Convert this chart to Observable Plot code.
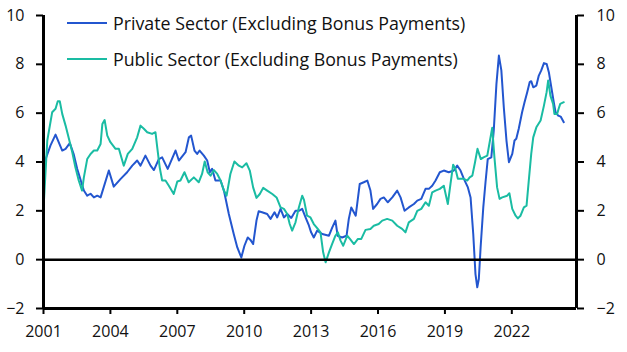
<!DOCTYPE html>
<html>
<head>
<meta charset="utf-8">
<script src="https://cdn.jsdelivr.net/npm/d3@7"></script>
<script src="https://cdn.jsdelivr.net/npm/@observablehq/plot@0.6"></script>
<style>
  html, body { margin: 0; padding: 0; background: #fff; }
  #wrap { position: relative; width: 627px; height: 352px; font-family: "Open Sans", sans-serif; }
  #legend { position: absolute; left: 67px; top: 0; font-size: 17.8px; color: #111; }
  .row { position: absolute; left: 0; display: flex; align-items: center; white-space: nowrap; height: 22px; }
  .sw { width: 40px; height: 2px; margin-right: 6px; }
</style>
</head>
<body>
<div id="wrap"><div id="chart"></div><div id="legend"></div></div>
<script>
const seriesNames = ["Private Sector (Excluding Bonus Payments)", "Public Sector (Excluding Bonus Payments)"];
const seriesColors = ["#2356cf", "#1abca3"];

const privateYears = [2001.05,2001.31,2001.54,2001.84,2001.99,2002.18,2002.36,2002.51,2002.81,2002.96,2003.11,2003.26,2003.41,2003.56,2003.93,2004.15,2004.45,2004.75,2004.98,2005.2,2005.35,2005.57,2005.8,2005.95,2006.17,2006.32,2006.57,2006.92,2007.07,2007.37,2007.52,2007.62,2007.77,2007.89,2008.0,2008.19,2008.34,2008.46,2008.56,2008.71,2008.94,2009.09,2009.31,2009.53,2009.69,2009.87,2010.01,2010.16,2010.28,2010.4,2010.55,2010.65,2010.8,2011.03,2011.18,2011.36,2011.48,2011.63,2011.78,2011.93,2012.11,2012.3,2012.45,2012.6,2012.75,2012.9,2013.0,2013.12,2013.27,2013.5,2013.8,2013.95,2014.09,2014.19,2014.39,2014.59,2014.69,2014.8,2015.0,2015.18,2015.36,2015.52,2015.66,2015.78,2015.96,2016.11,2016.26,2016.44,2016.64,2016.86,2017.01,2017.19,2017.38,2017.61,2017.76,2017.94,2018.13,2018.28,2018.43,2018.58,2018.77,2018.95,2019.17,2019.4,2019.55,2019.7,2019.85,2020.03,2020.15,2020.27,2020.37,2020.45,2020.52,2020.6,2020.72,2020.82,2020.92,2021.08,2021.19,2021.31,2021.42,2021.53,2021.64,2021.76,2021.87,2022.02,2022.12,2022.2,2022.31,2022.46,2022.57,2022.69,2022.8,2022.87,2022.96,2023.1,2023.21,2023.32,2023.44,2023.56,2023.66,2023.77,2023.88,2023.96,2024.08,2024.19,2024.33];
const privateValues = [4.0,4.67,5.12,4.47,4.54,4.77,4.3,3.72,2.83,2.62,2.7,2.55,2.62,2.55,3.65,2.99,3.3,3.58,3.85,4.06,3.85,4.26,3.85,3.67,4.12,4.19,3.72,4.47,4.06,4.4,5.01,5.08,4.47,4.33,4.47,4.26,4.06,3.58,3.72,3.24,3.24,2.83,1.87,1.05,0.5,0.09,0.57,0.91,0.81,0.64,1.6,1.98,1.94,1.87,1.67,1.94,1.73,2.08,1.73,1.87,1.71,2.0,2.0,2.08,1.73,1.4,1.12,0.91,1.19,1.05,0.98,1.32,1.6,0.98,0.91,0.98,1.67,2.14,1.8,3.1,3.17,3.24,2.83,2.08,2.28,2.49,2.55,2.35,2.55,2.83,2.55,2.0,2.14,2.28,2.42,2.49,2.9,2.9,3.03,3.24,3.58,3.65,3.58,3.65,3.85,3.65,3.31,2.96,2.55,1.05,-0.59,-1.13,-0.79,0.5,2.14,3.17,4.12,4.19,5.29,7.2,8.36,7.75,6.24,4.88,3.99,4.33,4.88,4.95,5.36,6.04,6.45,6.86,7.27,7.31,7.06,7.13,7.54,7.75,8.05,8.02,7.68,7.06,6.45,6.04,5.9,5.86,5.63];

const publicYears = [2001.0,2001.17,2001.39,2001.54,2001.64,2001.73,2001.84,2001.99,2002.14,2002.29,2002.43,2002.58,2002.73,2002.81,2002.96,2003.11,2003.26,2003.41,2003.56,2003.64,2003.74,2003.86,2004.0,2004.23,2004.38,2004.6,2004.78,2004.98,2005.2,2005.35,2005.5,2005.65,2005.87,2006.02,2006.1,2006.21,2006.32,2006.47,2006.62,2006.84,2007.0,2007.14,2007.32,2007.51,2007.74,2007.96,2008.11,2008.23,2008.36,2008.49,2008.64,2008.79,2008.94,2009.09,2009.21,2009.38,2009.56,2009.76,2009.91,2010.1,2010.25,2010.4,2010.55,2010.7,2010.85,2011.03,2011.26,2011.45,2011.63,2011.78,2011.93,2012.04,2012.15,2012.3,2012.45,2012.6,2012.68,2012.82,2012.97,2013.12,2013.3,2013.42,2013.54,2013.65,2013.8,2013.94,2014.09,2014.2,2014.32,2014.44,2014.62,2014.74,2014.92,2015.1,2015.25,2015.44,2015.66,2015.81,2016.03,2016.19,2016.41,2016.64,2016.86,2017.08,2017.23,2017.38,2017.61,2017.76,2017.94,2018.13,2018.28,2018.43,2018.58,2018.77,2018.95,2019.13,2019.25,2019.37,2019.47,2019.58,2019.85,2020.0,2020.11,2020.23,2020.35,2020.46,2020.61,2020.73,2020.9,2021.02,2021.12,2021.22,2021.34,2021.45,2021.57,2021.79,2021.89,2022.02,2022.17,2022.27,2022.39,2022.54,2022.66,2022.76,2022.87,2022.96,2023.1,2023.29,2023.44,2023.56,2023.63,2023.73,2023.85,2023.91,2024.03,2024.1,2024.17,2024.33];
const publicValues = [2.08,4.88,6.04,6.18,6.49,6.49,5.97,5.49,4.95,4.4,3.78,3.24,2.83,3.37,4.12,4.33,4.47,4.47,4.74,5.56,5.72,5.08,4.81,4.54,4.54,3.85,4.33,4.54,5.01,5.49,5.36,5.22,5.15,5.22,4.6,3.78,3.24,3.24,3.03,2.69,3.2,3.24,3.58,3.17,3.37,3.17,3.51,4.02,3.58,3.44,3.67,3.51,3.24,2.83,2.62,3.51,4.02,3.85,3.78,3.95,3.65,2.96,2.53,2.69,2.94,2.83,2.69,2.55,2.14,2.08,1.87,1.46,1.19,1.53,2.14,2.62,2.45,1.8,1.73,1.46,1.26,1.12,0.3,-0.11,0.3,0.64,0.98,1.12,0.78,0.57,0.98,0.85,0.64,0.85,0.85,1.22,1.26,1.39,1.46,1.6,1.67,1.6,1.39,1.26,1.12,1.53,1.67,2.0,2.08,2.35,2.21,2.76,2.83,2.9,3.03,2.28,3.1,3.89,3.72,3.31,3.31,3.24,3.37,3.44,3.99,4.54,4.12,4.19,4.26,4.88,5.4,4.19,2.96,2.49,2.55,2.62,2.72,2.08,1.8,1.69,1.8,2.14,2.21,3.24,4.33,5.01,5.42,5.7,6.31,6.86,7.34,6.72,6.38,5.97,5.97,6.18,6.38,6.45];

const xTicks = [2001, 2004, 2007, 2010, 2013, 2016, 2019, 2022];
const yTicks = [-2, 0, 2, 4, 6, 8, 10];
const xDomain = [2001, 2024.9];
const yDomain = [-2, 10];

const rows = [
  ...privateYears.map((x, i) => ({x, y: privateValues[i], s: seriesNames[0]})),
  ...publicYears.map((x, i) => ({x, y: publicValues[i], s: seriesNames[1]}))
];

const axisStyle = {strokeWidth: 2, stroke: "#000", fill: "#111", fontSize: 16};

const chart = Plot.plot({
  width: 627,
  height: 352,
  marginLeft: 43,
  marginRight: 51,
  marginTop: 15,
  marginBottom: 44,
  style: {fontFamily: "'Open Sans', sans-serif", fontSize: "16px", color: "#111", background: "#fff"},
  x: {domain: xDomain, ticks: xTicks, tickFormat: d => String(d)},
  y: {domain: yDomain, ticks: yTicks},
  color: {domain: seriesNames, range: seriesColors},
  marks: [
    Plot.axisY({anchor: "left", ticks: yTicks, tickSize: 7, tickPadding: 12, label: null, ...axisStyle}),
    Plot.axisY({anchor: "right", ticks: yTicks, tickSize: 7, tickPadding: 13, label: null, ...axisStyle}),
    Plot.axisX({ticks: xTicks, tickSize: 6, tickPadding: 11, label: null, tickFormat: d => String(d), ...axisStyle}),
    Plot.lineY(rows, {x: "x", y: "y", z: "s", stroke: "s", strokeWidth: 2, curve: "linear"}),
    Plot.ruleY([0], {stroke: "#000", strokeWidth: 2.5}),
    Plot.ruleY([yDomain[0]], {stroke: "#000", strokeWidth: 3}),
    Plot.ruleX(xDomain, {stroke: "#000", strokeWidth: 3})
  ]
});
document.getElementById("chart").appendChild(chart);

const legend = document.getElementById("legend");
const rowTops = [12, 48];
seriesNames.forEach((name, i) => {
  const r = document.createElement("div");
  r.className = "row";
  r.style.top = rowTops[i] + "px";
  const sw = document.createElement("div");
  sw.className = "sw";
  sw.style.background = seriesColors[i];
  const t = document.createElement("span");
  t.textContent = name;
  r.appendChild(sw);
  r.appendChild(t);
  legend.appendChild(r);
});
</script>
</body>
</html>
